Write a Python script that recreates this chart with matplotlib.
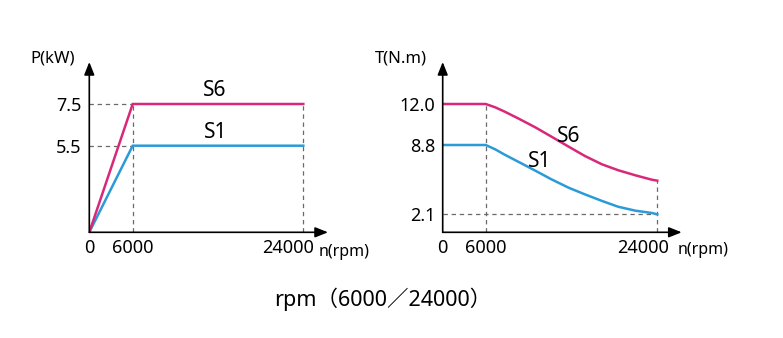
import numpy as np
import matplotlib
matplotlib.use('Agg')
import matplotlib.pyplot as plt
from matplotlib.transforms import ScaledTranslation

plt.rcParams['font.family'] = ['Noto Sans', 'Noto Sans CJK SC', 'DejaVu Sans']

PINK = '#d8287a'
BLUE = '#2b9bd8'
DASH = '#6a6a6a'

# power chart
speed_p = [0, 6000, 24000]
power_s6 = [0, 7.5, 7.5]
power_s1 = [0, 5.5, 5.5]
p_ticks = [5.5, 7.5]
p_tick_labels = ['5.5', '7.5']

# torque chart
speed_t = [0, 6000, 7000, 8000, 9400, 11200, 12900, 14700, 16400, 18200,
           19900, 21700, 23400, 24000]
torque_s6 = [12.0, 12.0, 11.74, 11.40, 10.88, 10.18, 9.45, 8.64, 7.74, 6.93,
             6.36, 5.87, 5.45, 5.35]
torque_s1 = [8.8, 8.8, 8.38, 7.86, 7.19, 6.32, 5.48, 4.67, 4.03, 3.39,
             2.83, 2.45, 2.23, 2.1]
t_ticks = [2.1, 8.8, 12.0]
t_tick_labels = ['2.1', '8.8', '12.0']

x_ticks = [0, 6000, 24000]
x_tick_labels = ['0', '6000', '24000']

W, H = 783, 338


def make_scale(ticks, offs):
    # schematic axis: each tick sits at its own pixel offset
    t = np.asarray(ticks, float)
    o = np.asarray(offs, float)
    lo = (o[1] - o[0]) / (t[1] - t[0])
    hi = (o[-1] - o[-2]) / (t[-1] - t[-2])
    span = (t[-1] - t[0]) * 50
    tt = np.r_[t[0] - span, t, t[-1] + span]
    oo = np.r_[o[0] - span * lo, o, o[-1] + span * hi]
    return (lambda v: np.interp(v, tt, oo)), (lambda p: np.interp(p, oo, tt))


def setup_axes(fig, x0, y0, xlen, ylen, xs, ys):
    ax = fig.add_axes([x0 / W, (H - y0) / H, xlen / W, ylen / H])
    fx, ix = xs
    fy, iy = ys
    ax.set_xscale('function', functions=(fx, ix))
    ax.set_yscale('function', functions=(fy, iy))
    ax.set_xlim(0, float(ix(xlen)))
    ax.set_ylim(0, float(iy(ylen)))
    for s in ax.spines.values():
        s.set_visible(False)
    ax.patch.set_visible(False)
    arrow = dict(arrowstyle='-|>,head_length=0.55,head_width=0.22', color='black',
                 lw=1.2, mutation_scale=14, shrinkA=0, shrinkB=0)
    ax.annotate('', xy=(1, 0), xytext=(0, 0), xycoords='axes fraction', arrowprops=arrow)
    ax.annotate('', xy=(0, 1), xytext=(0, 0), xycoords='axes fraction', arrowprops=arrow)
    ax.set_xticks(x_ticks)
    ax.set_xticklabels(x_tick_labels)
    ax.tick_params(axis='x', length=0, pad=4.5, labelsize=13)
    ax.tick_params(axis='y', length=0, pad=5.5, labelsize=13)
    ax.xaxis.set_minor_locator(matplotlib.ticker.NullLocator())
    ax.yaxis.set_minor_locator(matplotlib.ticker.NullLocator())
    return ax


def shift_last_xlabel(fig, ax, dx_px):
    lab = ax.get_xticklabels()[-1]
    lab.set_transform(lab.get_transform() + ScaledTranslation(dx_px / 100, 0, fig.dpi_scale_trans))


fig = plt.figure(figsize=(W / 100, H / 100), dpi=100)

# ---- left: P(kW)
ax1 = setup_axes(fig, 89.3, 232.3, 238.7, 170.3,
                 make_scale(x_ticks, [0, 43.4, 214.0]),
                 make_scale([0] + p_ticks, [0, 86.6, 128.3]))
ax1.set_yticks(p_ticks)
ax1.set_yticklabels(p_tick_labels)
shift_last_xlabel(fig, ax1, -15)

dash = dict(color=DASH, lw=0.9, ls=(0, (3.5, 3)))
ax1.plot([0, speed_p[1]], [power_s6[1]] * 2, **dash)
ax1.plot([0, speed_p[1]], [power_s1[1]] * 2, **dash)
ax1.plot([speed_p[1]] * 2, [0, power_s6[1]], **dash)
ax1.plot([speed_p[2]] * 2, [0, power_s6[2]], **dash)
ax1.plot(speed_p, power_s1, color=BLUE, lw=1.8, solid_joinstyle='miter')
ax1.plot(speed_p, power_s6, color=PINK, lw=1.8, solid_joinstyle='miter')
ax1.annotate('S6', (14700, power_s6[1]), xytext=(0, 2), textcoords='offset points',
             ha='center', va='bottom', fontsize=15)
ax1.annotate('S1', (14700, power_s1[1]), xytext=(0, 2), textcoords='offset points',
             ha='center', va='bottom', fontsize=15)

fig.text(53 / W, 1 - 58.5 / H, 'P(kW)', ha='center', va='center', fontsize=12)
fig.text(319 / W, 1 - 252 / H, 'n(rpm)', ha='left', va='center', fontsize=11.5)

# ---- right: T(N.m)
ax2 = setup_axes(fig, 442.7, 232.3, 239.0, 170.3,
                 make_scale(x_ticks, [0, 43.0, 214.6]),
                 make_scale([0] + t_ticks, [0, 18.0, 87.3, 128.3]))
ax2.set_yticks(t_ticks)
ax2.set_yticklabels(t_tick_labels)
shift_last_xlabel(fig, ax2, -14)

ax2.plot([speed_t[1]] * 2, [0, torque_s6[1]], **dash)
ax2.plot([speed_t[-1]] * 2, [0, torque_s6[-1]], **dash)
ax2.plot([0, speed_t[-1]], [torque_s1[-1]] * 2, **dash)
ax2.plot(speed_t, torque_s1, color=BLUE, lw=1.8)
ax2.plot(speed_t, torque_s6, color=PINK, lw=1.8)
ax2.text(14740, 9.5, 'S6', ha='center', va='center', fontsize=15)
ax2.text(11700, 7.25, 'S1', ha='center', va='center', fontsize=15)

fig.text(401 / W, 1 - 58.4 / H, 'T(N.m)', ha='center', va='center', fontsize=12)
fig.text(678 / W, 1 - 250.5 / H, 'n(rpm)', ha='left', va='center', fontsize=11.5)

fig.text(383 / W, 1 - 299 / H, 'rpm（6000／24000）', ha='center', va='center', fontsize=15.5)

fig.savefig('out.png', dpi=100)
